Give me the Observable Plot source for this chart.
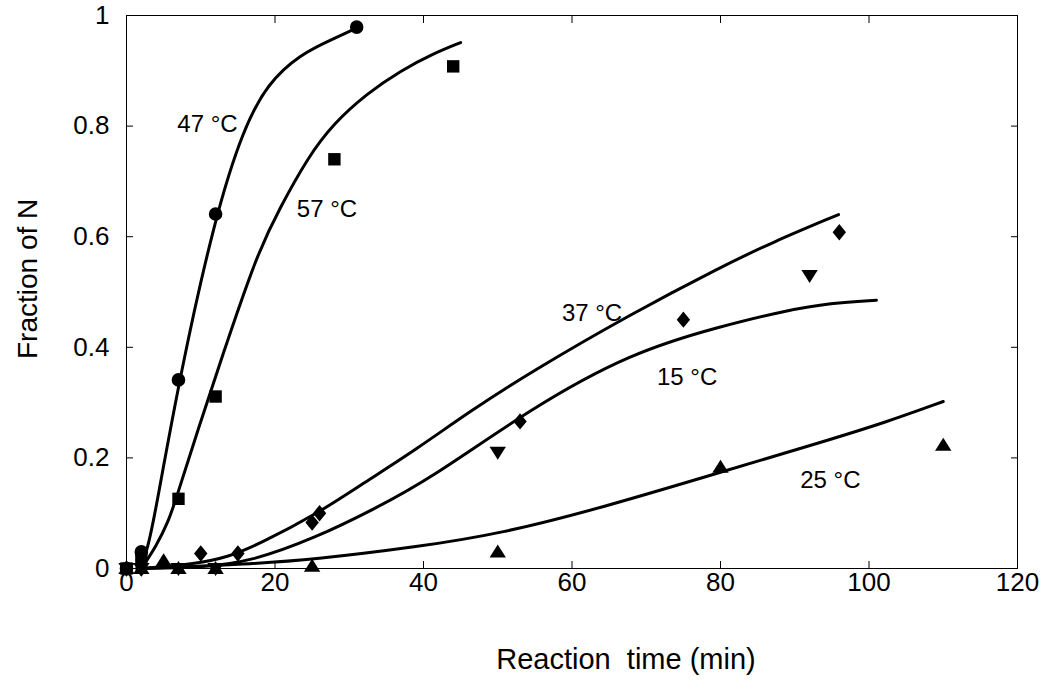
<!DOCTYPE html>
<html><head><meta charset="utf-8">
<script src="https://cdn.jsdelivr.net/npm/d3@7"></script>
<script src="https://cdn.jsdelivr.net/npm/@observablehq/plot@0.6"></script>
<style>body{margin:0;background:#fff;} #chart{position:absolute;left:0;top:0;}</style>
</head><body><div id="chart"></div>
<script>
// ---- measured points (Reaction time in min, fraction of N) ----
const t47 = [0, 2, 7, 12, 31];
const f47 = [0, 0.03, 0.341, 0.641, 0.979];
const t57 = [0, 2, 7, 12, 28, 44];
const f57 = [0, 0.02, 0.126, 0.311, 0.74, 0.908];
const t37 = [0, 2, 10, 15, 25, 26, 53, 75, 96];
const f37 = [0, 0, 0.027, 0.027, 0.083, 0.1, 0.266, 0.45, 0.608];
const t15 = [0, 2, 7, 12, 50, 92];
const f15 = [0, 0, 0, 0, 0.21, 0.53];
const t25 = [0, 2, 5, 7, 12, 25, 50, 80, 110];
const f25 = [0, 0, 0.014, 0, 0, 0.004, 0.03, 0.183, 0.223];

// ---- fitted curves ----
const c47t = [1.9, 2.8, 3.7, 7.05, 12, 15.8, 19, 23.4, 27.9, 30.8];
const c47f = [0.0, 0.035, 0.087, 0.341, 0.641, 0.797, 0.877, 0.93, 0.958, 0.976];
const c57t = [2.0, 4.0, 5.7, 6.6, 9.6, 12.7, 17.6, 20.7, 24.4, 27.9, 32.4, 36.9, 41.3, 45];
const c57f = [0.0, 0.04, 0.087, 0.123, 0.25, 0.376, 0.57, 0.653, 0.743, 0.805, 0.859, 0.90, 0.931, 0.951];
const c37t = [2, 9.1, 13.6, 18, 25.7, 32, 39.2, 46, 54.4, 67.9, 80, 87, 95.9];
const c37f = [0, 0.008, 0.02, 0.045, 0.099, 0.155, 0.217, 0.282, 0.355, 0.46, 0.545, 0.59, 0.64];
const c15t = [2, 10, 16.7, 25.7, 33, 40.9, 54.4, 67.9, 80, 89, 94.8, 101];
const c15f = [0, 0.002, 0.012, 0.057, 0.105, 0.162, 0.289, 0.39, 0.438, 0.467, 0.48, 0.485];
const c25t = [2, 16.7, 25, 39.2, 50.4, 63.8, 80, 93.5, 102.4, 110];
const c25f = [0, 0.008, 0.016, 0.039, 0.063, 0.109, 0.174, 0.228, 0.265, 0.302];

// ---- curve labels ----
const labelText = ["47 °C", "57 °C", "37 °C", "15 °C", "25 °C"];
const labelT = [10.9, 27.0, 62.7, 75.5, 94.8];
const labelF = [0.804, 0.650, 0.461, 0.346, 0.159];

// ---- axes ----
const xTicks = [0, 20, 40, 60, 80, 100, 120];
const yTicks = [0, 0.2, 0.4, 0.6, 0.8, 1];
const xLabel = "Reaction  time (min)";
const yLabel = "Fraction of N";

const pts = (ts, fs) => ts.map((t, i) => ({t, f: fs[i]}));
const lab = labelText.map((s, i) => ({s, t: labelT[i], f: labelF[i]}));

const poly = (p) => ({draw(ctx) { ctx.moveTo(p[0][0], p[0][1]); for (let i = 1; i < p.length; i++) ctx.lineTo(p[i][0], p[i][1]); ctx.closePath(); }});
const circleSym = {draw(ctx) { ctx.moveTo(6.8, 0); ctx.arc(0, 0, 6.8, 0, 2 * Math.PI); ctx.closePath(); }};
const squareSym = poly([[-6.2, -6.2], [6.2, -6.2], [6.2, 6.2], [-6.2, 6.2]]);
const diamondSym = poly([[0, -8.2], [6.7, 0], [0, 8.2], [-6.7, 0]]);
const upTri = poly([[0, -7.5], [8.2, 5.5], [-8.2, 5.5]]);
const downTri = poly([[0, 7.5], [8.2, -5.5], [-8.2, -5.5]]);

const font = "'Liberation Sans', Arial, sans-serif";
const curve = (ts, fs) => Plot.line(pts(ts, fs), {x: "t", y: "f", stroke: "black", strokeWidth: 3, curve: "basis"});
const dots = (ts, fs, sym) => Plot.dot(pts(ts, fs), {x: "t", y: "f", symbol: sym, fill: "black", stroke: "none"});

const chart = Plot.plot({
  width: 1050, height: 696,
  marginLeft: 126, marginRight: 33, marginTop: 15, marginBottom: 128,
  style: {fontFamily: font, background: "white", color: "black"},
  x: {domain: [0, 120], label: null},
  y: {domain: [0, 1], label: null},
  marks: [
    Plot.frame({stroke: "black", strokeWidth: 1}),
    Plot.axisX(xTicks, {anchor: "bottom", tickSize: -7, tickPadding: 11, fontSize: 26, tickFormat: d => String(d), label: null}),
    Plot.axisX(xTicks, {anchor: "top", tickSize: -7, fill: "none", label: null}),
    Plot.axisY(yTicks, {anchor: "left", tickSize: -7, tickPadding: 24, fontSize: 26, tickFormat: d => String(d), label: null}),
    Plot.axisY(yTicks, {anchor: "right", tickSize: -7, fill: "none", label: null}),
    curve(c47t, c47f), curve(c57t, c57f), curve(c37t, c37f), curve(c15t, c15f), curve(c25t, c25f),
    dots(t47, f47, circleSym),
    dots(t57, f57, squareSym),
    dots(t37, f37, diamondSym),
    dots(t15, f15, downTri),
    dots(t25, f25, upTri),
    Plot.text(lab, {x: "t", y: "f", text: "s", fontSize: 24, fill: "black"}),
    Plot.text([xLabel], {frameAnchor: "bottom", text: d => d, dx: 54, dy: 100, fontSize: 29, fill: "black"}),
    Plot.text([yLabel], {frameAnchor: "left", text: d => d, dx: -98, dy: 67, rotate: -90, fontSize: 28, fill: "black"})
  ]
});
document.getElementById("chart").appendChild(chart);
</script>
</body></html>
